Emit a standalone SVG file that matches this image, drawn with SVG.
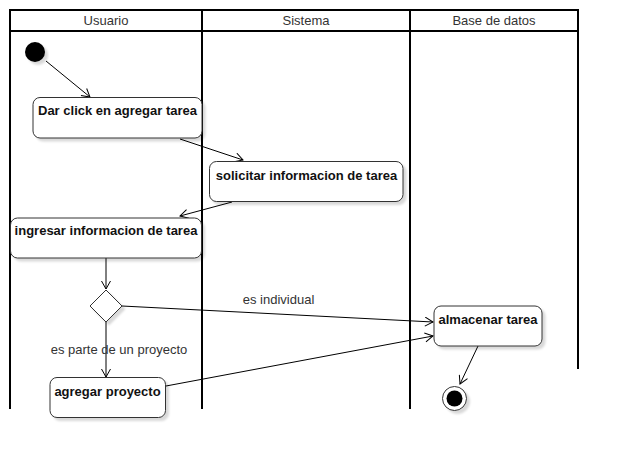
<svg xmlns="http://www.w3.org/2000/svg" width="618" height="458" viewBox="0 0 618 458">
<style>
.lane{stroke:#000;stroke-width:2;fill:none}
.hdr{font-family:"Liberation Sans",Arial,sans-serif;font-size:13px;fill:#333;text-anchor:middle}
.node{fill:#fff;stroke:#333;stroke-width:1;filter:url(#sh)}
.nt{font-family:"Liberation Sans",Arial,sans-serif;font-size:13px;font-weight:bold;fill:#111;text-anchor:middle}
.lbl{font-family:"Liberation Sans",Arial,sans-serif;font-size:13px;fill:#333;text-anchor:middle}
.edge{stroke:#000;stroke-width:1;fill:none;marker-end:url(#arr)}
</style>
<defs>
<filter id="sh" x="-10%" y="-10%" width="130%" height="140%">
<feDropShadow dx="3" dy="3" stdDeviation="1.2" flood-color="#000" flood-opacity="0.15"/>
</filter>
<marker id="arr" markerUnits="userSpaceOnUse" markerWidth="12" markerHeight="12" refX="9" refY="5" orient="auto">
<path d="M1,0.5 L9,5 L1,9.5" fill="none" stroke="#000" stroke-width="1"/>
</marker>
</defs>
<rect width="618" height="458" fill="#fff"/>
<g id="lanes">
<line class="lane" x1="9" y1="10" x2="579" y2="10"/>
<line class="lane" x1="10" y1="31" x2="578" y2="31"/>
<line class="lane" x1="10" y1="9" x2="10" y2="409"/>
<line class="lane" x1="202" y1="10" x2="202" y2="409"/>
<line class="lane" x1="410" y1="10" x2="410" y2="409"/>
<line class="lane" x1="578" y1="9" x2="578" y2="369"/>
<text class="hdr" x="106" y="25">Usuario</text>
<text class="hdr" x="306" y="25">Sistema</text>
<text class="hdr" x="494" y="25">Base de datos</text>
</g>
<g id="connectors">
<line class="edge" x1="46" y1="61" x2="90" y2="97"/>
<line class="edge" x1="180" y1="139" x2="243" y2="160"/>
<line class="edge" x1="232" y1="202" x2="180" y2="216"/>
<line class="edge" x1="106" y1="258" x2="106" y2="289"/>
<line class="edge" x1="106" y1="322" x2="106" y2="377"/>
<line class="edge" x1="122" y1="306" x2="433" y2="322"/>
<line class="edge" x1="166" y1="386" x2="433" y2="336"/>
<line class="edge" x1="478" y1="346" x2="460" y2="384"/>
<text class="lbl" x="278.5" y="304">es individual</text>
<text class="lbl" x="119" y="354">es parte de un proyecto</text>
</g>
<g id="start">
<circle cx="35" cy="52" r="10" fill="#000" filter="url(#sh)"/>
</g>
<g id="n1">
<rect class="node" x="33" y="97.5" width="169" height="40.5" rx="7"/>
<text class="nt" x="117.5" y="115">Dar click en agregar tarea</text>
</g>
<g id="n2">
<rect class="node" x="209.5" y="161.5" width="193.5" height="40" rx="7"/>
<text class="nt" x="306.5" y="179.5">solicitar informacion de tarea</text>
</g>
<g id="n3">
<rect class="node" x="10.5" y="218" width="191" height="40" rx="7"/>
<text class="nt" x="106" y="235">ingresar informacion de tarea</text>
</g>
<g id="decision">
<path class="node" d="M106,290 L122,306 L106,322 L90,306 Z"/>
</g>
<g id="n4">
<rect class="node" x="50" y="377.5" width="115.5" height="40" rx="7"/>
<text class="nt" x="107.5" y="395.5">agregar proyecto</text>
</g>
<g id="n5">
<rect class="node" x="434" y="306" width="108" height="40" rx="7"/>
<text class="nt" x="488" y="323.5">almacenar tarea</text>
</g>
<g id="end">
<circle cx="454.5" cy="398.5" r="12" fill="#fff" stroke="#333" stroke-width="1" filter="url(#sh)"/>
<circle cx="454.5" cy="398.5" r="8" fill="#000"/>
</g>
</svg>
